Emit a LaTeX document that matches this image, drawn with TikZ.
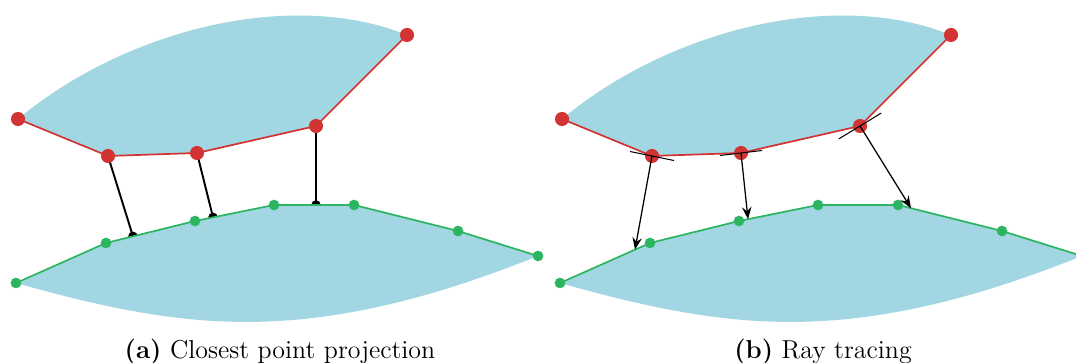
\documentclass[tikz,border=0pt]{standalone}
\usetikzlibrary{calc,arrows.meta}
\definecolor{fillblue}{HTML}{A1D6E2}
\definecolor{ptred}{HTML}{D23333}
\definecolor{ptgreen}{HTML}{2CB560}
\pgfdeclarelayer{Lzero}\pgfdeclarelayer{Lone}\pgfdeclarelayer{Ltwo}
\pgfsetlayers{Lzero,Lone,Ltwo,main}
\tikzset{
  reddot/.style={circle,fill=ptred,inner sep=0pt,minimum size=6.2pt},
  greendot/.style={circle,fill=ptgreen,inner sep=0pt,minimum size=4.7pt},
  footdot/.style={circle,fill=black,inner sep=0pt,minimum size=4.2pt},
  redline/.style={draw=ptred,line width=0.75pt},
  greenline/.style={draw=ptgreen,line width=0.75pt},
  region/.style={fill=fillblue},
  projline/.style={draw=black,line width=0.85pt},
  rayline/.style={draw=black,line width=0.55pt,-{Stealth[length=5.4pt,width=4.2pt,inset=1.9pt]}},
  tanline/.style={draw=black,line width=0.45pt},
  captext/.style={font=\fontsize{11.4pt}{13.7pt}\selectfont,inner sep=0pt}
}
\newcommand\mkpanel[2]{%
  \node[reddot] (#1R1) at (18+#2,119) {};
  \node[reddot] (#1R2) at (108+#2,156) {};
  \node[reddot] (#1R3) at (197+#2,153) {};
  \node[reddot] (#1R4) at (316+#2,126) {};
  \node[reddot] (#1R5) at (407+#2,35) {};
  \node[greendot] (#1G1) at (16+#2,283) {};
  \node[greendot] (#1G2) at (106+#2,243) {};
  \node[greendot] (#1G3) at (195+#2,221) {};
  \node[greendot] (#1G4) at (274+#2,205) {};
  \node[greendot] (#1G5) at (354+#2,205) {};
  \node[greendot] (#1G6) at (458+#2,231) {};
  \node[greendot] (#1G7) at (538+#2,256) {};
  \begin{pgfonlayer}{Lzero}
    \fill[region] (#1R1.center) .. controls (125+#2,30) and (290+#2,-12) .. (#1R5.center)
      -- (#1R4.center) -- (#1R3.center) -- (#1R2.center) -- cycle;
  \end{pgfonlayer}
  \begin{pgfonlayer}{Lone}
    \fill[region] (#1G1.center) -- (#1G2.center) -- (#1G3.center) -- (#1G4.center)
      -- (#1G5.center) -- (#1G6.center) -- (#1G7.center)
      .. controls (308+#2,348) and (186+#2,330.6) .. (#1G1.center) -- cycle;
  \end{pgfonlayer}
  \begin{pgfonlayer}{Ltwo}
    \draw[redline] (#1R1.center) -- (#1R2.center) -- (#1R3.center) -- (#1R4.center) -- (#1R5.center);
    \draw[greenline] (#1G1.center) -- (#1G2.center) -- (#1G3.center) -- (#1G4.center)
      -- (#1G5.center) -- (#1G6.center) -- (#1G7.center);
  \end{pgfonlayer}
}
\begin{document}
\begin{tikzpicture}[x=0.44pt,y=-0.44pt]
  \useasboundingbox (0,0) rectangle (1076,363);
  \clip (0,0) rectangle (1076,363);
  % left panel
  \mkpanel{l}{0}
  \begin{pgfonlayer}{Lzero}
    \node[footdot] (lF1) at ($(lG2)!0.303!(lG3)$) {};
    \node[footdot] (lF2) at ($(lG3)!0.228!(lG4)$) {};
    \node[footdot] (lF3) at ($(lG4)!0.525!(lG5)$) {};
    \draw[projline] (lR2.center) -- (lF1.center);
    \draw[projline] (lR3.center) -- (lF2.center);
    \draw[projline] (lR4.center) -- (lF3.center);
  \end{pgfonlayer}
  % right panel
  \mkpanel{r}{544}
  \coordinate (rA1) at ($(rG1)!0.833!(rG2)$);
  \coordinate (rA2) at ($(rG3)!0.114!(rG4)$);
  \coordinate (rA3) at ($(rG5)!0.125!(rG6)$);
  \draw[tanline] ($(rR2)+(-22,-4.5)$) -- ($(rR2)+(22,4.5)$);
  \draw[tanline] ($(rR3)+(-21,2.5)$) -- ($(rR3)+(21,-2.5)$);
  \draw[tanline] ($(rR4)+(-21.2,12.9)$) -- ($(rR4)+(21.2,-12.9)$);
  \draw[rayline] (rR2.center) -- (rA1);
  \draw[rayline] (rR3.center) -- (rA2);
  \draw[rayline] (rR4.center) -- (rA3);
  % captions
  \node[captext] (capa) at (280,352) {\textbf{(a)} Closest point projection};
  \node[captext] (capb) at (823,352) {\textbf{(b)} Ray tracing};
\end{tikzpicture}
\end{document}
